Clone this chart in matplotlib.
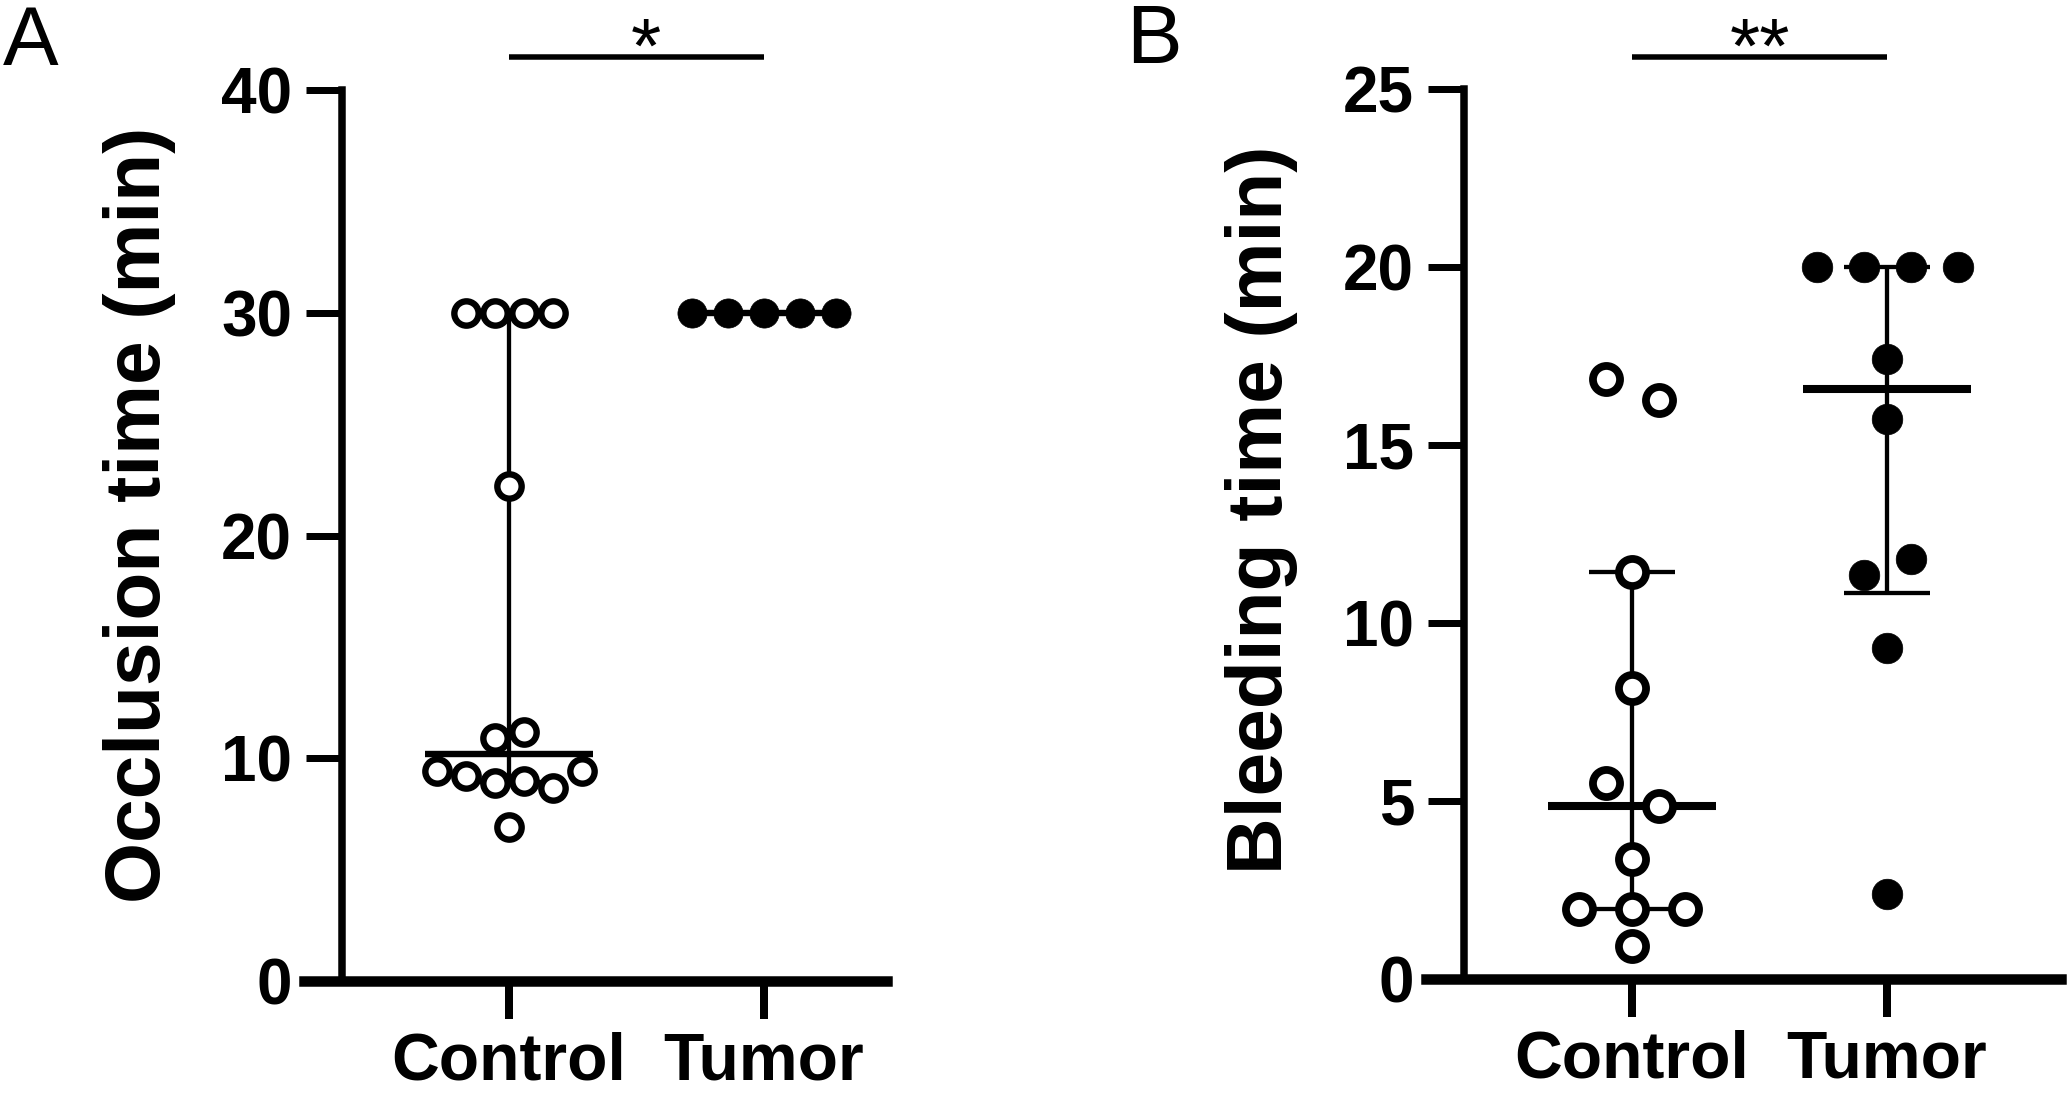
import numpy as np
import matplotlib
matplotlib.use("Agg")
import matplotlib.pyplot as plt
from matplotlib import transforms

plt.rcParams['font.family'] = ['Liberation Sans', 'DejaVu Sans']

# ---------------- data ----------------
categories = ['Control', 'Tumor']

occlusion_control = [30, 30, 30, 30, 22.2, 10.9, 11.16, 9.44, 9.20, 8.87, 8.98, 8.65, 9.44, 6.93]
occlusion_tumor = [30, 30, 30, 30, 30]
occlusion_ticks = [0, 10, 20, 30, 40]
occlusion_label = 'Occlusion time (min)'
occlusion_sig = '*'

bleeding_control = [16.86, 16.26, 11.43, 8.17, 5.50, 4.86, 3.38, 1.97, 1.97, 1.97, 0.93]
bleeding_tumor = [20, 20, 20, 20, 17.42, 15.72, 11.36, 11.79, 9.30, 2.40]
bleeding_ticks = [0, 5, 10, 15, 20, 25]
bleeding_label = 'Bleeding time (min)'
bleeding_sig = '**'

panel_letters = ['A', 'B']

# ---------------- layout helpers ----------------
W, H, DPI = 2070, 1094, 100
PT = 72.0 / DPI  # points per pixel

fig = plt.figure(figsize=(W / DPI, H / DPI), dpi=DPI)


def px_rect(l, t, r, b):
    return [l / W, 1 - b / H, (r - l) / W, (b - t) / H]


def swarm(ax, vals, step_px, thresh_px):
    vals = np.asarray(vals, float)
    t = ax.transData
    ppy = t.transform((0, 1))[1] - t.transform((0, 0))[1]
    ppx = t.transform((1, 0))[0] - t.transform((0, 0))[0]
    order = np.argsort(vals, kind='stable')
    rows = [[order[0]]]
    for a, b in zip(order[:-1], order[1:]):
        if (vals[b] - vals[a]) * ppy < thresh_px:
            rows[-1].append(b)
        else:
            rows.append([b])
    off = np.zeros(len(vals))
    for r in rows:
        r = sorted(r)
        n = len(r)
        for i, idx in enumerate(r):
            off[idx] = (i - (n - 1) / 2) * step_px / ppx
    return off


def panel(rect, xlim, spine_x, yticks, ylabel, ylabel_xy, ylabel_size, groups,
          sig, sig_x, median_lw):
    ax = fig.add_axes(rect)
    ax.set_xlim(*xlim)
    ax.set_ylim(yticks[0], yticks[-1])
    for s in ['top', 'right']:
        ax.spines[s].set_visible(False)
    ax.spines['left'].set_position(('data', spine_x))
    ax.spines['left'].set_bounds(yticks[0], yticks[-1])
    ax.spines['left'].set_linewidth(7.5 * PT)
    ax.spines['bottom'].set_linewidth(10.5 * PT)
    ax.set_yticks(yticks)
    ax.set_yticklabels([str(v) for v in yticks], fontsize=46, fontweight='bold')
    ax.set_xticks(range(len(categories)))
    ax.set_xticklabels(categories, fontsize=47.5, fontweight='bold')
    ax.tick_params(axis='y', direction='out', length=36 * PT, width=7 * PT,
                   pad=10)
    ax.tick_params(axis='x', direction='out', length=38 * PT, width=8 * PT,
                   pad=9)

    for i, (vals, filled, ms, mew, step, thr) in enumerate(groups):
        vals = np.asarray(vals, float)
        q1, med, q3 = np.percentile(vals, [25, 50, 75], method='weibull')
        ax.vlines(i, q1, q3, color='black', lw=4.3 * PT, zorder=2)
        ax.hlines([q1, q3], i - 0.167, i + 0.167, color='black', lw=4.3 * PT,
                  zorder=2)
        ax.hlines(med, i - 0.33, i + 0.33, color='black', lw=median_lw,
                  zorder=2)
        off = swarm(ax, vals, step, thr)
        ax.plot(i + off, vals, linestyle='none', marker='o', markersize=ms,
                markerfacecolor='black' if filled else 'white',
                markeredgecolor='black', markeredgewidth=mew, zorder=3,
                clip_on=False)

    blend = transforms.blended_transform_factory(ax.transData, fig.transFigure)
    ax.plot([0, 1], [1 - 57 / H] * 2, color='black', lw=5.5 * PT,
            transform=blend, clip_on=False, solid_capstyle='butt')
    ax.text(sig_x, 1 - 73 / H, sig, transform=blend, ha='center',
            va='baseline', fontsize=56)
    fig.text(ylabel_xy[0] / W, 1 - ylabel_xy[1] / H, ylabel, rotation=90,
             ha='center', va='center', fontsize=ylabel_size, fontweight='bold')
    return ax


# Panel A
panel(px_rect(304, 90, 887, 981), (-0.804, 1.482), -0.655, occlusion_ticks,
      occlusion_label, (140, 515), 56.5,
      [(occlusion_control, False, 17.5, 4.6, 29, 28),
       (occlusion_tumor, True, 21.0, 0.5, 36, 28)],
      occlusion_sig, 0.535, 4.6)

# Panel B
panel(px_rect(1426, 89, 2061, 979), (-0.808, 1.682), -0.659, bleeding_ticks,
      bleeding_label, (1261, 510), 56.5,
      [(bleeding_control, False, 19.5, 5.6, 53, 30),
       (bleeding_tumor, True, 22.0, 0.5, 47, 30)],
      bleeding_sig, 0.5, 5.8)

fig.text(3 / W, 1 - 65 / H, panel_letters[0], fontsize=60, ha='left',
         va='baseline')
fig.text(1126 / W, 1 - 63 / H, panel_letters[1], fontsize=60, ha='left',
         va='baseline')

fig.savefig('out.png', dpi=DPI)
